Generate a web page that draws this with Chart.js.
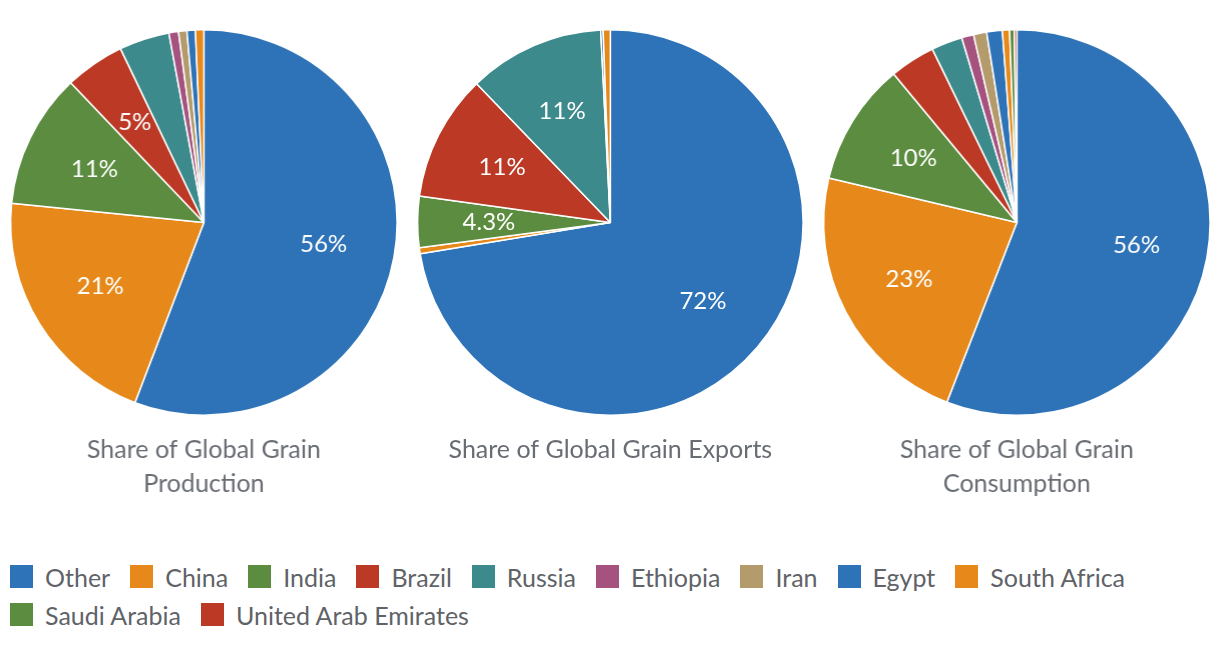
<!DOCTYPE html>
<html>
<head>
<meta charset="utf-8">
<script src="https://cdn.jsdelivr.net/npm/chart.js@4"></script>
<style>
  html, body { margin: 0; padding: 0; background: #ffffff; }
  body { width: 1220px; height: 646px; position: relative; overflow: hidden; font-family: Lato, sans-serif; }
  .col { position: absolute; top: 0; width: 406.67px; height: 505px; }
  #legend { position: absolute; left: 10px; top: 565px; width: 1205px; display: flex; flex-wrap: wrap; row-gap: 15px; column-gap: 20px; }
  .item { display: flex; align-items: center; height: 23px; font-size: 25px; color: #5f6368; white-space: nowrap; }
  .box { width: 23px; height: 23px; margin-right: 12px; flex: none; }
</style>
</head>
<body>
<div class="col" style="left:0"><canvas id="c1"></canvas></div>
<div class="col" style="left:406.67px"><canvas id="c2"></canvas></div>
<div class="col" style="left:813.33px"><canvas id="c3"></canvas></div>
<div id="legend"></div>
<script>
const categories = ["Other", "China", "India", "Brazil", "Russia", "Ethiopia", "Iran", "Egypt", "South Africa", "Saudi Arabia", "United Arab Emirates"];
const colors = ["#2e73b7", "#e6891a", "#5b8c3f", "#bc3a25", "#3c8a8b", "#a5527f", "#b49b6b", "#2e73b7", "#e6891a", "#5b8c3f", "#bc3a25"];
const productionShare  = [55.8, 20.8, 11.3, 5.0, 4.2, 0.8, 0.7, 0.7, 0.7, 0, 0];
const exportsShare     = [72.4, 0.5, 4.3, 10.6, 11.4, 0, 0, 0.2, 0.6, 0, 0];
const consumptionShare = [55.9, 22.8, 10.3, 3.8, 2.6, 1.0, 1.1, 1.3, 0.6, 0.4, 0.2];
const titles = [
  ["Share of Global Grain", "Production"],
  ["Share of Global Grain Exports", ""],
  ["Share of Global Grain", "Consumption"]
];

function fmt(p) { return Number(p.toPrecision(2)).toString() + '%'; }

const pctLabels = {
  id: 'pctLabels',
  afterDatasetsDraw(chart) {
    const ds = chart.data.datasets[0];
    const total = ds.data.reduce((a, b) => a + b, 0);
    const meta = chart.getDatasetMeta(0);
    const ctx = chart.ctx;
    ctx.save();
    ctx.font = '24px Lato';
    ctx.fillStyle = '#ffffff';
    ctx.textAlign = 'center';
    ctx.textBaseline = 'middle';
    meta.data.forEach((arc, i) => {
      const p = ds.data[i] / total * 100;
      if (p < 4.25) return;
      const a = arc.getProps(['x', 'y', 'startAngle', 'endAngle', 'outerRadius'], true);
      const mid = (a.startAngle + a.endAngle) / 2;
      const r = a.outerRadius * 0.63;
      ctx.fillText(fmt(p), a.x + Math.cos(mid) * r, a.y + Math.sin(mid) * r);
    });
    ctx.restore();
  }
};

function makePie(id, values, title) {
  new Chart(document.getElementById(id), {
    type: 'pie',
    data: {
      labels: categories,
      datasets: [{
        data: values,
        backgroundColor: colors,
        borderColor: '#ffffff',
        borderWidth: (c) => (c.raw > 0 ? 1.5 : 0)
      }]
    },
    options: {
      responsive: true,
      maintainAspectRatio: false,
      animation: false,
      layout: { padding: { top: 29, bottom: 0, left: 0, right: 0 } },
      plugins: {
        legend: { display: false },
        tooltip: { enabled: false },
        title: {
          display: true,
          position: 'bottom',
          text: title,
          color: '#686c73',
          font: { family: 'Lato', size: 25, weight: 'normal', lineHeight: 1.36 },
          padding: { top: 17, bottom: 4 }
        }
      }
    },
    plugins: [pctLabels]
  });
}

makePie('c1', productionShare, titles[0]);
makePie('c2', exportsShare, titles[1]);
makePie('c3', consumptionShare, titles[2]);

const legend = document.getElementById('legend');
categories.forEach((name, i) => {
  const it = document.createElement('div');
  it.className = 'item';
  const b = document.createElement('span');
  b.className = 'box';
  b.style.background = colors[i];
  const t = document.createElement('span');
  t.textContent = name;
  it.appendChild(b);
  it.appendChild(t);
  legend.appendChild(it);
});
</script>
</body>
</html>
